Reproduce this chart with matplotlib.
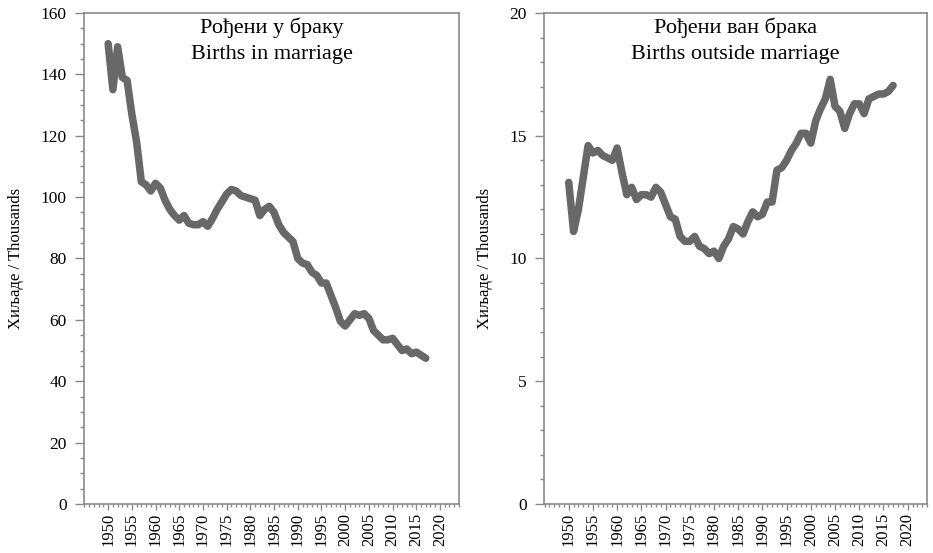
import matplotlib.pyplot as plt
from matplotlib.ticker import MultipleLocator

# yearly births (thousands)
years = list(range(1950, 2018))

in_marriage = [
    150, 135, 149, 139, 138, 127, 118, 105, 104, 102,
    104.5, 103, 99, 96, 94, 92.5, 94, 91.5, 91, 91,
    92, 90.5, 93, 96, 98.5, 101, 102.5, 102, 100.5, 100,
    99.5, 99, 94, 96, 97, 95, 91, 88.5, 87, 85.5,
    80, 78.5, 78, 75.5, 74.5, 72, 72, 68, 64, 59.5,
    58, 60, 62, 61.5, 62, 60.5, 56.5, 55, 53.5, 53.5,
    54, 52, 50, 50.5, 49, 49.5, 48.5, 47.5,
]

outside_marriage = [
    13.1, 11.1, 12.0, 13.3, 14.6, 14.3, 14.4, 14.2, 14.1, 14.0,
    14.5, 13.5, 12.6, 12.9, 12.4, 12.6, 12.6, 12.5, 12.9, 12.7,
    12.2, 11.7, 11.6, 10.9, 10.7, 10.7, 10.9, 10.5, 10.4, 10.2,
    10.3, 10.0, 10.5, 10.8, 11.3, 11.2, 11.0, 11.5, 11.9, 11.7,
    11.8, 12.3, 12.3, 13.6, 13.7, 14.0, 14.4, 14.7, 15.1, 15.1,
    14.7, 15.6, 16.1, 16.5, 17.3, 16.2, 16.0, 15.3, 15.9, 16.3,
    16.3, 15.9, 16.5, 16.6, 16.7, 16.7, 16.8, 17.05,
]

tick_years = list(range(1950, 2021, 5))

titles = ['Рођени у браку\nBirths in marriage', 'Рођени ван брака\nBirths outside marriage']
ylabel = 'Хиљаде / Thousands'

LINE = '#686868'
SPINE = '#8a8a8a'

plt.rcParams['font.family'] = ['Liberation Serif', 'DejaVu Serif']
plt.rcParams['font.size'] = 12

fig = plt.figure(figsize=(9.33, 5.53), dpi=100)
fig.patch.set_facecolor('white')

ax1 = fig.add_axes([0.0900, 0.0886, 0.4019, 0.8879])
ax2 = fig.add_axes([0.5831, 0.0886, 0.4105, 0.8879])

panels = [
    (ax1, in_marriage, (0, 160), 20, 5, titles[0]),
    (ax2, outside_marriage, (0, 20), 5, 1, titles[1]),
]

for ax, values, ylim, major, minor, title in panels:
    ax.plot(years, values, color=LINE, linewidth=5.4,
            solid_joinstyle='round', solid_capstyle='round')
    ax.set_xlim(1944.9, 2024)
    ax.set_ylim(*ylim)
    ax.yaxis.set_major_locator(MultipleLocator(major))
    ax.yaxis.set_minor_locator(MultipleLocator(minor))
    ax.set_xticks(tick_years)
    ax.set_xticklabels([str(y) for y in tick_years], rotation=90)
    ax.xaxis.set_minor_locator(MultipleLocator(1))

    # y ticks: long, x ticks: short
    ax.tick_params(axis='y', which='major', direction='out', length=6.5,
                   width=1, color=SPINE, labelsize=12.5, labelcolor='black', pad=6)
    ax.tick_params(axis='y', which='minor', direction='out', length=3,
                   width=1, color=SPINE)
    ax.tick_params(axis='x', which='major', direction='out', length=4.5,
                   width=1, color=SPINE, labelsize=12, labelcolor='black', pad=2)
    ax.tick_params(axis='x', which='minor', direction='out', length=2.2,
                   width=1, color=SPINE)
    ax.tick_params(top=False, right=False, which='both')

    for side in ['top', 'right', 'left', 'bottom']:
        ax.spines[side].set_color(SPINE)
        ax.spines[side].set_linewidth(1.2)

    ax.set_ylabel(ylabel, fontsize=12, labelpad=12)
    ax.text(0.5, 0.99, title, transform=ax.transAxes, ha='center', va='top',
            fontsize=16, linespacing=1.45)

plt.savefig('out.png', dpi=100, facecolor=fig.get_facecolor())
plt.close()
